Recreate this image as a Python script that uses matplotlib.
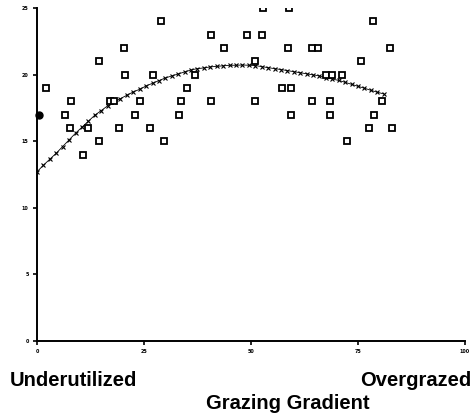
import matplotlib
matplotlib.use("Agg")
import matplotlib.pyplot as plt

# Observed data points (grazing gradient position, response)
obs_x = [2.1, 7.9, 6.5, 7.7, 11.8, 14.5, 10.7, 14.5, 17.1, 18.1, 20.3, 20.5, 19.2,
         22.9, 24.1, 27.2, 26.4, 29.7, 29.0, 33.2, 33.6, 35.0, 36.8, 40.7, 40.7, 43.7,
         52.9, 58.9, 78.4, 49.0, 52.6, 58.6, 64.3, 65.7, 82.4, 75.7, 50.9, 67.6, 68.9,
         71.3, 57.3, 59.3, 50.9, 64.3, 68.5, 80.6, 59.3, 68.5, 78.8, 77.6, 83.0, 72.5]
obs_y = [19, 18, 17, 16, 16, 15, 14, 21, 18, 18, 22, 20, 16,
         17, 18, 20, 16, 15, 24, 17, 18, 19, 20, 18, 23, 22,
         25, 25, 24, 23, 23, 22, 22, 22, 22, 21, 21, 20, 20,
         20, 19, 19, 18, 18, 18, 18, 17, 17, 17, 16, 16, 15]

# Highlighted point on the axis
dot_x = [0.4]
dot_y = [17]

# Fitted curve
fit_x = [0, 1.5, 3, 4.5, 6, 7.5, 9, 10.5, 12, 13.5, 15, 16.5, 18, 19.5, 21, 22.5, 24,
         25.5, 27, 28.5, 30, 31.5, 33, 34.5, 36, 37.5, 39, 40.5, 42, 43.5, 45, 46.5,
         48, 49.5, 51, 52.5, 54, 55.5, 57, 58.5, 60, 61.5, 63, 64.5, 66, 67.5, 69,
         70.5, 72, 73.5, 75, 76.5, 78, 79.5, 81]
fit_y = [12.7, 13.2, 13.65, 14.1, 14.6, 15.1, 15.6, 16.05, 16.5, 16.95, 17.3, 17.65,
         17.95, 18.2, 18.45, 18.7, 18.9, 19.15, 19.35, 19.55, 19.75, 19.9, 20.05, 20.2,
         20.35, 20.45, 20.5, 20.58, 20.62, 20.66, 20.7, 20.7, 20.72, 20.7, 20.68, 20.6,
         20.52, 20.45, 20.38, 20.3, 20.22, 20.14, 20.06, 19.98, 19.9, 19.78, 19.67,
         19.56, 19.42, 19.27, 19.12, 18.98, 18.82, 18.68, 18.55]

x_ticks = [0, 25, 50, 75, 100]
y_ticks = [0, 5, 10, 15, 20, 25]

fig = plt.figure(figsize=(4.77, 4.19), dpi=100)
ax = fig.add_axes([37 / 477, 78 / 419, 428 / 477, 333 / 419])
ax.set_xlim(0, 100)
ax.set_ylim(0, 25)

ax.plot(fit_x, fit_y, color="black", linewidth=0.6, marker="x", markersize=3.2,
        markeredgewidth=0.8, zorder=3)
ax.plot(obs_x, obs_y, linestyle="none", marker="s", markersize=4.6,
        markerfacecolor="white", markeredgecolor="black", markeredgewidth=1.3, zorder=4)
ax.plot(dot_x, dot_y, linestyle="none", marker="o", markersize=5,
        color="black", zorder=5, clip_on=False)

for s in ["top", "right"]:
    ax.spines[s].set_visible(False)
for s in ["left", "bottom"]:
    ax.spines[s].set_linewidth(1.4)

ax.set_xticks(x_ticks)
ax.set_yticks(y_ticks)
ax.set_xticklabels([str(v) for v in x_ticks], fontsize=3.5, fontweight="bold")
ax.set_yticklabels([str(v) for v in y_ticks], fontsize=3.5, fontweight="bold")
ax.tick_params(axis="both", direction="out", length=3, width=1.2, pad=3)

fig.text(10 / 477, 1 - 380 / 419, "Underutilized", fontsize=14.5, fontweight="bold",
         family="Liberation Sans", ha="left", va="center")
fig.text(471 / 477, 1 - 380 / 419, "Overgrazed", fontsize=14.5, fontweight="bold",
         family="Liberation Sans", ha="right", va="center")
fig.text(288 / 477, 1 - 403 / 419, "Grazing Gradient", fontsize=14.5, fontweight="bold",
         family="Liberation Sans", ha="center", va="center")

fig.savefig("out.png", dpi=100)
